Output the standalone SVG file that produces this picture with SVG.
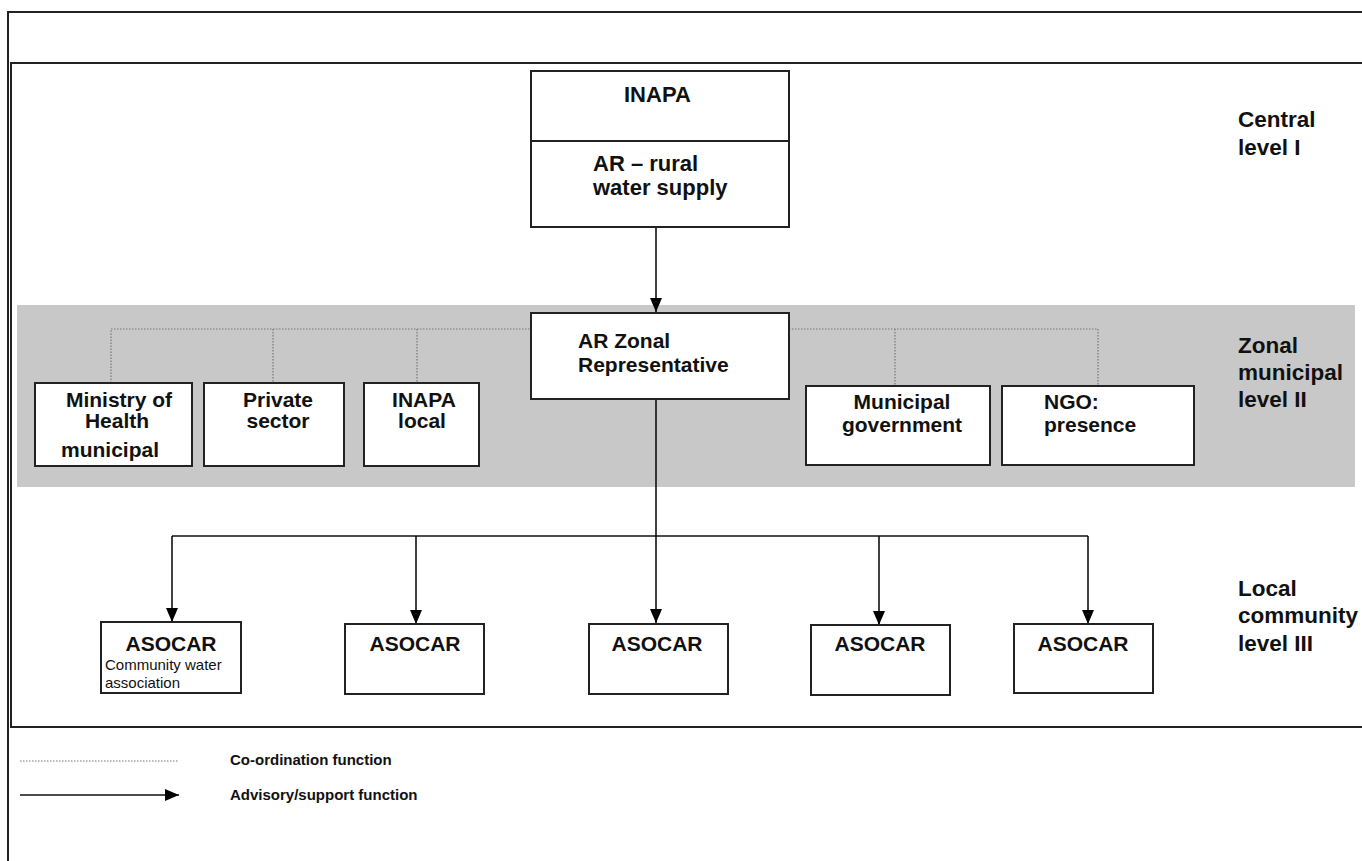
<svg xmlns="http://www.w3.org/2000/svg" width="1362" height="861" viewBox="0 0 1362 861">
<defs>
<marker id="ah" markerUnits="userSpaceOnUse" markerWidth="14" markerHeight="14" refX="14" refY="6" orient="auto" viewBox="0 0 14 12">
<path d="M0,0 L14,6 L0,12 Z" fill="#000"/>
</marker>
</defs>
<style>
.frame{fill:none;stroke:#222;stroke-width:2}
.box{fill:#fff;stroke:#222;stroke-width:2}
.t{font-family:"Liberation Sans",Arial,Helvetica,sans-serif;font-weight:bold;font-size:21px;fill:#111}
.tb{font-size:22px}
.lvl{font-family:"Liberation Sans",Arial,Helvetica,sans-serif;font-weight:bold;font-size:22.5px;fill:#111}
.sm{font-family:"Liberation Sans",Arial,Helvetica,sans-serif;font-size:15px;fill:#111}
.lg{font-family:"Liberation Sans",Arial,Helvetica,sans-serif;font-weight:bold;font-size:15px;fill:#111}
.adv{fill:none;stroke:#111;stroke-width:1.6}
.coord{fill:none;stroke:#777;stroke-width:1.2;stroke-dasharray:1.5 1.5}
</style>
<rect width="1362" height="861" fill="#fff"/>
<!-- frames -->
<g id="frames">
<path class="frame" d="M1362,12 H8 V861"/>
<path class="frame" d="M1362,63 H11 V727 H1362"/>
<rect x="17" y="305" width="1338" height="182" fill="#c8c8c8"/>
</g>
<!-- level labels -->
<g id="levels">
<text class="lvl" x="1238" y="127">Central</text>
<text class="lvl" x="1238" y="155">level I</text>
<text class="lvl" x="1238" y="353">Zonal</text>
<text class="lvl" x="1238" y="380">municipal</text>
<text class="lvl" x="1238" y="407">level II</text>
<text class="lvl" x="1238" y="596">Local</text>
<text class="lvl" x="1238" y="623">community</text>
<text class="lvl" x="1238" y="651">level III</text>
</g>
<!-- connectors -->
<g id="connectors">
<path class="coord" d="M111,383 V329 H531 M273,329 V383 M417,329 V383 M789,329 H1098 V386 M895,329 V386"/>
<path class="adv" d="M656,227 V312" marker-end="url(#ah)"/>
<path class="adv" d="M656,399 V623" marker-end="url(#ah)"/>
<path class="adv" d="M172,536 H1088"/>
<path class="adv" d="M172,536 V622" marker-end="url(#ah)"/>
<path class="adv" d="M416,536 V624" marker-end="url(#ah)"/>
<path class="adv" d="M879,536 V625" marker-end="url(#ah)"/>
<path class="adv" d="M1088,536 V624" marker-end="url(#ah)"/>
</g>
<!-- nodes -->
<g id="inapa">
<rect class="box" x="531" y="71" width="258" height="156"/>
<line x1="531" y1="141" x2="789" y2="141" stroke="#222" stroke-width="2"/>
<text class="t tb" x="624" y="102">INAPA</text>
<text class="t tb" x="593" y="171">AR – rural</text>
<text class="t tb" x="593" y="195">water supply</text>
</g>
<g id="ar-zonal">
<rect class="box" x="531" y="313" width="258" height="86"/>
<text class="t" x="578" y="348">AR Zonal</text>
<text class="t" x="578" y="372">Representative</text>
</g>
<g id="ministry">
<rect class="box" x="35" y="383" width="157" height="83"/>
<text class="t" x="119" y="407" text-anchor="middle">Ministry of</text>
<text class="t" x="117" y="428" text-anchor="middle">Health</text>
<text class="t" x="110" y="457" text-anchor="middle">municipal</text>
</g>
<g id="private">
<rect class="box" x="204" y="383" width="140" height="83"/>
<text class="t" x="278" y="407" text-anchor="middle">Private</text>
<text class="t" x="278" y="428" text-anchor="middle">sector</text>
</g>
<g id="inapa-local">
<rect class="box" x="364" y="383" width="115" height="83"/>
<text class="t" x="424" y="407" text-anchor="middle">INAPA</text>
<text class="t" x="422" y="428" text-anchor="middle">local</text>
</g>
<g id="municipal">
<rect class="box" x="806" y="386" width="184" height="79"/>
<text class="t" x="902" y="409" text-anchor="middle">Municipal</text>
<text class="t" x="902" y="432" text-anchor="middle">government</text>
</g>
<g id="ngo">
<rect class="box" x="1002" y="386" width="192" height="79"/>
<text class="t" x="1044" y="409">NGO:</text>
<text class="t" x="1044" y="432">presence</text>
</g>
<g id="asocar1">
<rect class="box" x="101" y="622" width="140" height="71"/>
<text class="t" x="171" y="651" text-anchor="middle">ASOCAR</text>
<text class="sm" x="105" y="670">Community water</text>
<text class="sm" x="105" y="688">association</text>
</g>
<g id="asocar2">
<rect class="box" x="345" y="624" width="139" height="70"/>
<text class="t" x="415" y="651" text-anchor="middle">ASOCAR</text>
</g>
<g id="asocar3">
<rect class="box" x="589" y="624" width="139" height="70"/>
<text class="t" x="657" y="651" text-anchor="middle">ASOCAR</text>
</g>
<g id="asocar4">
<rect class="box" x="811" y="625" width="139" height="70"/>
<text class="t" x="880" y="651" text-anchor="middle">ASOCAR</text>
</g>
<g id="asocar5">
<rect class="box" x="1014" y="624" width="139" height="69"/>
<text class="t" x="1083" y="651" text-anchor="middle">ASOCAR</text>
</g>
<!-- legend -->
<g id="legend">
<line class="coord" x1="20" y1="761" x2="179" y2="761"/>
<text class="lg" x="230" y="765">Co-ordination function</text>
<line class="adv" x1="20" y1="795" x2="179" y2="795" marker-end="url(#ah)"/>
<text class="lg" x="230" y="800">Advisory/support function</text>
</g>
</svg>
